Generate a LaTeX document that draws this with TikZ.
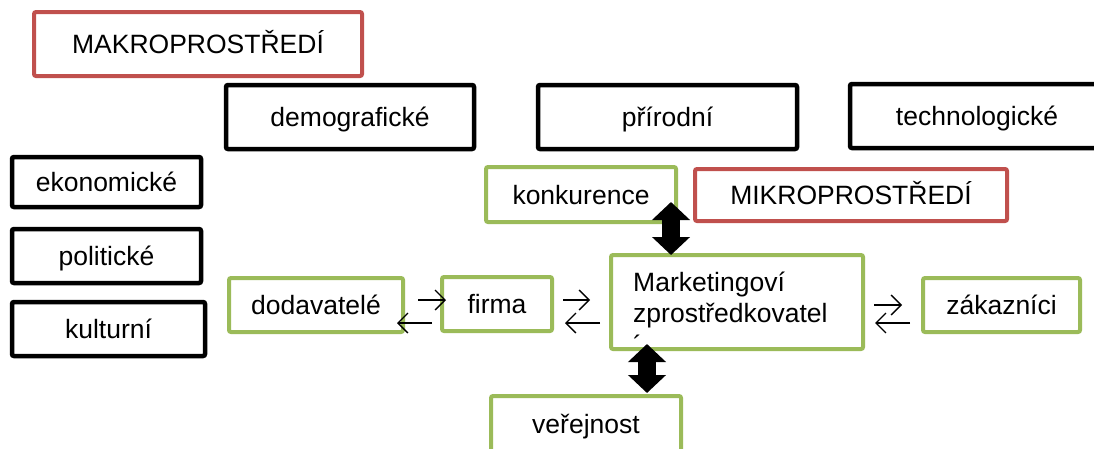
\documentclass[tikz,border=0pt]{standalone}
\usepackage{fontspec}
\setmainfont{Liberation Sans}
\usetikzlibrary{arrows.meta}
\definecolor{makrored}{HTML}{C0504D}
\definecolor{mikrogreen}{HTML}{9BBB59}

\begin{document}
\begin{tikzpicture}[x=1pt, y=-1pt,
    envtext/.style={font=\fontsize{26.5}{31.5}\selectfont},
    box/.style={envtext, draw, rounded corners=2pt, inner sep=0pt, outer sep=0pt,
        text height=19pt, text depth=0pt},
    blackbox/.style={box, draw=black, line width=4.5pt},
    redbox/.style={box, draw=makrored, line width=4pt},
    greenbox/.style={box, draw=mikrogreen, line width=4pt},
    flow/.style={-{Straight Barb[length=10pt,width=20pt]}, line width=1.3pt},
    bigarrow/.style={line width=18pt,
        {Triangle[length=18pt,width=37pt]}-{Triangle[length=18pt,width=37pt]}}]

    % Frame
    \useasboundingbox (0,0) rectangle (1094,448);
    \clip (0,0) rectangle (1094,448);

    % Makroprostredi
    \node[redbox, minimum width=328pt, minimum height=64pt] (makro) at (198,44) {MAKROPROSTŘEDÍ};
    \node[blackbox, minimum width=248pt, minimum height=64pt] (demo) at (350,117) {demografické};
    \node[blackbox, minimum width=259pt, minimum height=64pt] (prir) at (667.5,117) {přírodní};
    \node[blackbox, minimum width=254pt, minimum height=64pt] (tech) at (977,116) {technologické};
    \node[blackbox, minimum width=189pt, minimum height=50pt] (ekon) at (106.5,182) {ekonomické};
    \node[blackbox, minimum width=189pt, minimum height=54pt] (polit) at (106.5,256) {politické};
    \node[blackbox, minimum width=193pt, minimum height=54pt] (kult) at (108.5,329) {kulturní};

    % Mikroprostredi
    \node[greenbox, minimum width=190pt, minimum height=55pt] (konk) at (581,194.5) {konkurence};
    \node[redbox, minimum width=312pt, minimum height=52pt] (mikro) at (851,195) {MIKROPROSTŘEDÍ};
    \node[greenbox, minimum width=174pt, minimum height=54pt] (dod) at (316,305) {dodavatelé};
    \node[greenbox, minimum width=110pt, minimum height=54pt] (firma) at (497,304) {firma};
    \node[greenbox, minimum width=252pt, minimum height=94pt] (mark) at (737,302) {};
    \node[envtext, anchor=base west, align=left, inner sep=0pt] (marktext) at (633,354)
        {Marketingoví\\zprostředkovatel\\´};
    \node[greenbox, minimum width=157pt, minimum height=54pt] (zak) at (1001.5,305) {zákazníci};
    \node[greenbox, minimum width=190pt, minimum height=56pt] (verej) at (586,424) {veřejnost};

    % Flows
    \draw[flow] ([xshift=15pt,yshift=5pt]dod.east) -- ([xshift=4pt,yshift=4pt]firma.west);
    \draw[flow] ([xshift=-10pt,yshift=-19pt]firma.west) -- ([xshift=-6pt,yshift=-18pt]dod.east);
    \draw[flow] ([xshift=11pt,yshift=4pt]firma.east) -- ([xshift=-21pt,yshift=2pt]mark.west);
    \draw[flow] ([xshift=-11pt,yshift=-21pt]mark.west) -- ([xshift=13pt,yshift=-19pt]firma.east);
    \draw[flow] ([xshift=11pt,yshift=-3pt]mark.east) -- ([xshift=-21pt]zak.west);
    \draw[flow] ([xshift=-13pt,yshift=-18pt]zak.west) -- ([xshift=12pt,yshift=-21pt]mark.east);

    % Big two-way arrows
    \draw[bigarrow] ([xshift=-5pt,yshift=20pt]konk.south east) -- ([xshift=-5pt]konk.south east |- mark.north);
    \draw[bigarrow, shorten >=3pt] ([xshift=36pt,yshift=5pt]mark.south west) -- ([xshift=36pt]mark.south west |- verej.north);
\end{tikzpicture}
\end{document}
